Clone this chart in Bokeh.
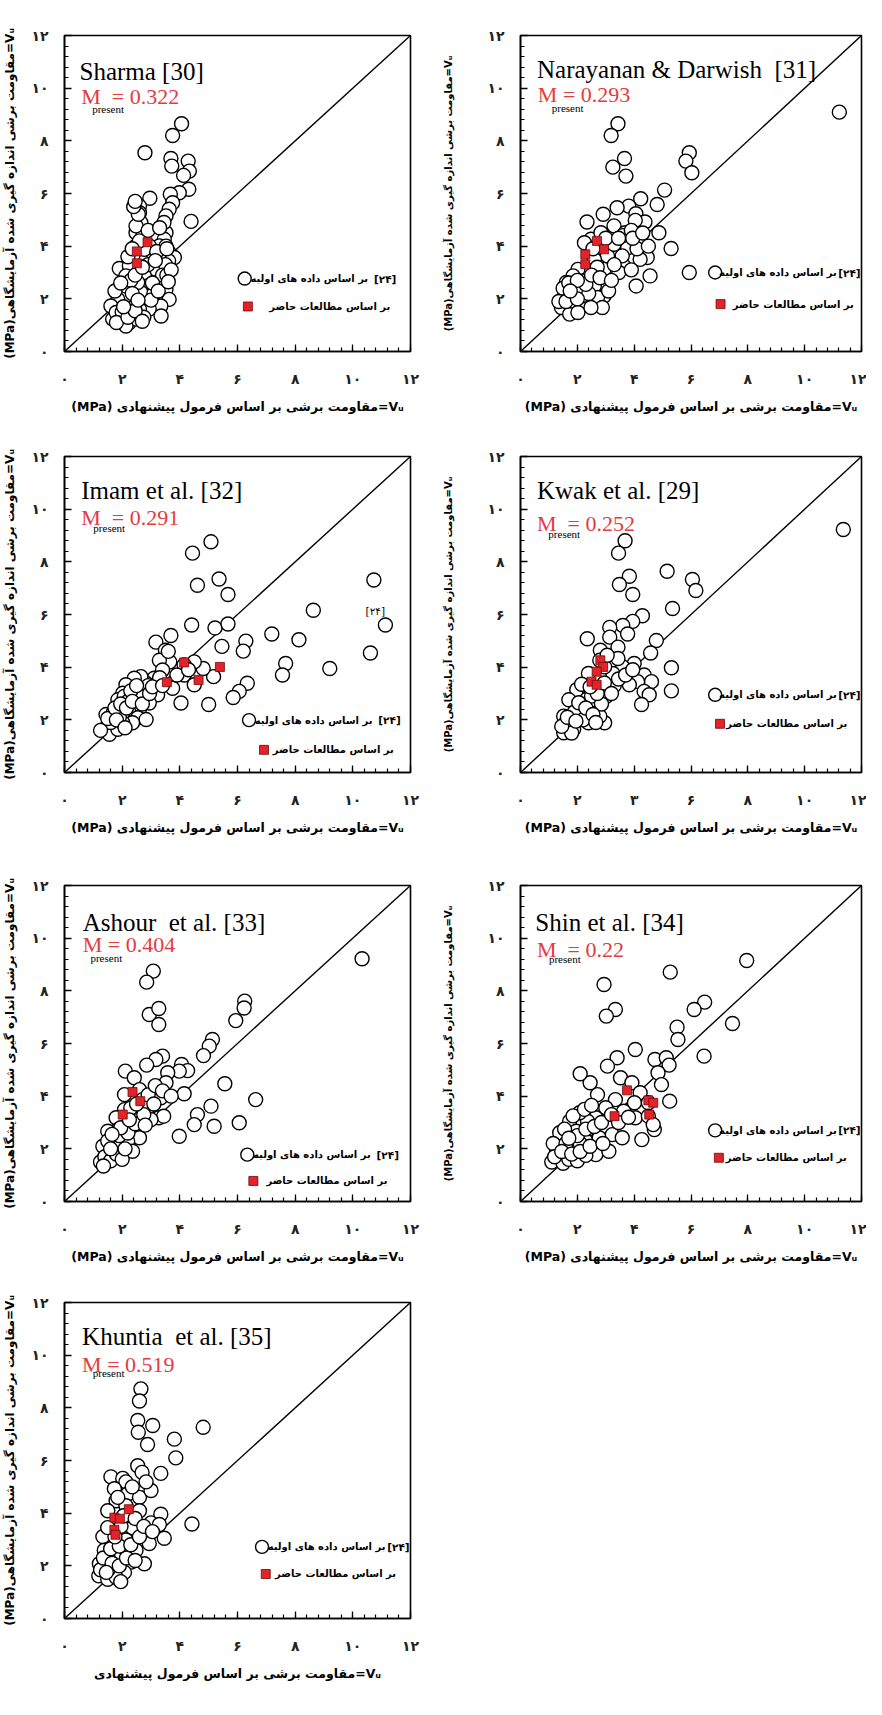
from bokeh.plotting import figure
from bokeh.models import Range1d, FixedTicker
from bokeh.layouts import column, row
from bokeh.embed import file_html
from bokeh.resources import INLINE
from bokeh.core.properties import value

# ---------------- data ----------------
MAJOR = [0, 2, 4, 6, 8, 10, 12]
TICK_LABELS = ["۰", "۲", "۴", "۶", "۸", "۱۰", "۱۲"]
TICK_LABELS_KWAK_X = ["۰", "۲", "۳", "۶", "۸", "۱۰", "۱۲"]
DIAG = [0, 12]

X_TITLE = "(MPa) مقاومت برشی بر اساس فرمول پیشنهادی=Vᵤ"
X_TITLE_LAST = "مقاومت برشی بر اساس فرمول پیشنهادی=Vᵤ"
Y_TITLE = "(MPa)مقاومت برشی اندازه گیری شده آزمایشگاهی=Vᵤ"
LEG1 = "بر اساس داده های اولیه"
LEG_REF = "[۲۴]"
LEG2 = "بر اساس مطالعات حاضر"

sharma_circles = [
    (4.06, 8.65), (3.75, 8.2), (2.79, 7.55), (3.69, 7.33), (3.72, 7.04), (4.29, 7.23), (4.33, 6.85),
    (4.13, 6.69), (4.31, 6.16), (3.98, 6.03), (3.67, 5.97), (3.75, 5.65), (3.63, 5.4), (3.52, 5.15),
    (4.39, 4.94), (2.96, 5.82), (2.6, 5.52), (2.6, 5.27), (2.65, 4.89), (2.48, 4.51), (3.52, 4.51),
    (3.46, 4.26), (3.29, 4.01), (3.63, 3.75), (3.81, 3.57), (3.61, 3.44), (2.48, 4.01), (2.94, 4.01),
    (3.29, 3.5), (3.17, 3.12), (1.9, 3.15), (2.25, 3.25), (2.13, 2.87), (2.77, 2.87), (2.88, 2.49),
    (3.34, 2.74), (3.52, 2.36), (3.63, 1.98), (3.34, 1.73), (2.94, 1.61), (2.65, 2.24), (2.36, 1.86),
    (2.13, 2.11), (1.85, 1.98), (1.61, 1.73), (1.67, 1.23), (1.96, 1.35), (2.25, 1.1), (2.48, 1.23),
    (2.13, 0.97), (1.79, 1.48), (2.6, 1.61), (2.13, 2.49), (2.54, 2.62), (2.83, 3.5), (3.06, 3.75),
    (3.52, 4.0), (2.71, 4.38), (2.48, 4.77), (2.56, 5.21), (2.77, 3.88), (2.3, 2.7), (2.9, 3.3),
    (3.2, 3.8), (3.5, 3.3), (3.4, 2.9), (3.1, 2.2), (2.0, 1.5), (1.8, 1.1), (2.2, 1.3), (2.75, 1.3),
    (3.55, 3.9), (2.6, 4.2), (3.45, 4.9), (2.45, 1.55), (3.0, 1.95), (1.75, 2.3), (2.05, 1.7),
    (2.35, 2.2), (2.45, 2.9), (2.7, 3.2), (3.05, 2.6), (3.25, 2.3), (3.55, 2.9), (3.7, 3.1),
    (2.2, 3.6), (2.35, 3.9), (2.9, 4.6), (3.3, 4.7), (3.15, 3.45), (2.55, 1.95), (1.95, 2.6),
    (2.7, 1.15), (3.35, 1.35), (3.6, 2.65), (2.4, 5.5), (2.45, 5.7),
]
sharma_squares = [(2.51, 3.8), (2.51, 3.35), (2.88, 4.15)]

narayanan_circles = [
    (11.22, 9.09), (3.43, 8.65), (3.19, 8.2), (3.66, 7.33), (3.25, 7.0), (3.71, 6.66), (5.94, 7.55),
    (5.82, 7.23), (6.03, 6.79), (5.07, 6.13), (4.81, 5.58), (4.23, 5.8), (3.81, 5.52), (3.4, 5.46),
    (4.06, 5.23), (4.38, 4.92), (4.04, 4.98), (3.29, 4.77), (2.91, 5.21), (2.34, 4.92), (3.69, 4.51),
    (4.23, 4.11), (3.77, 3.94), (4.87, 4.51), (5.3, 3.91), (5.94, 3.0), (4.46, 3.57), (4.56, 2.87),
    (4.07, 2.49), (4.21, 3.5), (3.63, 3.25), (3.46, 3.0), (2.94, 3.12), (3.06, 3.63), (2.48, 4.26),
    (2.83, 4.51), (2.25, 4.13), (2.6, 3.5), (2.31, 3.12), (2.02, 3.12), (1.85, 2.87), (1.61, 2.62),
    (2.19, 2.68), (2.6, 2.49), (2.94, 2.11), (2.71, 2.05), (2.88, 1.67), (2.48, 1.67), (2.16, 2.11),
    (1.9, 2.17), (1.56, 2.17), (1.44, 1.67), (1.73, 1.42), (1.79, 1.92), (2.02, 1.48), (3.29, 4.07),
    (3.58, 3.63), (1.5, 2.4), (1.7, 2.6), (2.1, 2.4), (2.4, 2.2), (2.7, 3.2), (3.1, 2.3), (3.6, 4.4),
    (3.9, 4.6), (4.1, 3.9), (1.35, 1.9), (1.6, 1.9), (2.0, 2.0), (2.3, 2.55), (2.5, 2.9), (2.8, 2.8),
    (3.3, 3.3), (3.2, 2.7), (3.9, 3.1), (3.95, 4.3), (4.3, 4.5), (4.5, 4.0), (2.0, 2.7), (1.75, 2.3),
    (2.55, 3.9), (3.0, 4.3), (3.45, 4.3),
]
narayanan_squares = [(2.28, 3.69), (2.28, 3.31), (2.69, 4.2), (2.94, 3.88)]

imam_circles = [
    (5.08, 8.76), (4.44, 8.33), (4.61, 7.11), (5.36, 7.35), (5.67, 6.76), (4.41, 5.6), (5.22, 5.49),
    (5.67, 5.64), (5.46, 4.79), (6.29, 4.99), (6.2, 4.61), (7.19, 5.26), (8.13, 5.04), (8.63, 6.16),
    (10.73, 7.31), (11.13, 5.6), (10.61, 4.54), (9.2, 3.95), (7.67, 4.14), (7.56, 3.7), (6.34, 3.39),
    (6.06, 3.08), (5.85, 2.85), (5.0, 2.58), (4.04, 2.64), (5.17, 3.64), (4.81, 3.95), (4.5, 4.2),
    (4.15, 3.7), (4.5, 3.33), (3.75, 3.2), (3.65, 4.2), (3.69, 5.2), (3.17, 4.95), (3.5, 4.64),
    (3.29, 4.26), (3.4, 3.89), (3.11, 3.58), (2.83, 3.39), (2.65, 3.64), (2.42, 3.58), (2.13, 3.33),
    (2.02, 3.01), (1.85, 2.76), (2.42, 3.01), (2.77, 2.95), (3.23, 2.95), (2.94, 2.64), (2.6, 2.39),
    (2.25, 2.26), (2.54, 2.08), (2.83, 2.01), (2.02, 2.26), (1.44, 2.2), (1.44, 1.7), (1.56, 1.45),
    (1.85, 1.64), (2.36, 1.89), (2.02, 1.89), (2.07, 2.89), (4.15, 4.08), (1.7, 2.3), (1.9, 2.1),
    (2.2, 2.7), (2.6, 2.9), (2.9, 3.3), (3.3, 3.6), (1.6, 1.9), (2.3, 3.1), (1.25, 1.6), (1.5, 2.05),
    (1.75, 2.45), (1.95, 2.6), (2.15, 2.45), (2.35, 2.7), (2.7, 2.6), (2.5, 3.3), (2.95, 3.0),
    (3.05, 3.25), (3.4, 3.3), (1.8, 2.0), (2.1, 1.7), (3.6, 4.6), (3.9, 3.7), (4.3, 3.9),
]
imam_squares = [(4.15, 4.18), (3.55, 3.43), (4.65, 3.51), (5.39, 4.01)]

kwak_circles = [
    (11.36, 9.23), (3.68, 8.8), (3.45, 8.33), (3.83, 7.45), (3.48, 7.14), (3.95, 6.76), (5.16, 7.64),
    (6.05, 7.33), (6.17, 6.91), (5.35, 6.23), (4.29, 5.95), (3.95, 5.74), (3.6, 5.58), (3.77, 5.26),
    (3.14, 5.51), (3.14, 5.14), (4.78, 5.01), (4.58, 4.54), (3.43, 4.76), (2.81, 4.64), (2.35, 5.08),
    (4.0, 4.14), (3.6, 4.01), (4.35, 3.7), (4.61, 3.45), (4.12, 3.45), (3.83, 3.33), (4.35, 3.08),
    (4.53, 2.95), (4.26, 2.58), (5.31, 3.98), (5.31, 3.1), (3.25, 3.76), (3.14, 3.26), (3.02, 2.89),
    (2.62, 2.64), (2.27, 2.76), (1.98, 3.14), (2.1, 2.51), (1.7, 2.76), (1.52, 2.14), (1.7, 1.76),
    (1.87, 1.64), (1.52, 1.51), (2.16, 2.26), (2.39, 1.89), (2.68, 2.26), (2.96, 1.89), (2.79, 2.14),
    (2.39, 3.76), (2.96, 4.01), (2.79, 4.26), (3.43, 4.33), (1.6, 1.9), (1.9, 2.3), (2.2, 2.0),
    (2.5, 2.9), (2.85, 2.6), (3.3, 3.3), (1.8, 1.5), (2.3, 3.3), (1.45, 1.75), (1.65, 2.1),
    (1.95, 1.95), (2.05, 2.65), (2.3, 2.45), (2.55, 2.2), (2.7, 3.0), (2.95, 3.4), (3.2, 3.0),
    (3.45, 3.55), (3.7, 3.7), (3.95, 3.9), (2.15, 3.35), (2.45, 3.25), (3.05, 4.45), (2.65, 1.9),
]
kwak_squares = [(2.5, 3.45), (2.68, 3.33), (2.81, 4.26), (2.91, 4.01), (2.68, 3.83)]

ashour_circles = [
    (10.32, 9.22), (3.08, 8.75), (2.85, 8.33), (2.94, 7.1), (3.27, 7.33), (3.27, 6.72), (6.25, 7.61),
    (6.23, 7.35), (5.94, 6.87), (5.13, 6.15), (5.02, 5.9), (4.82, 5.54), (3.4, 5.52), (3.17, 5.39),
    (2.85, 5.18), (4.06, 5.2), (4.27, 4.97), (3.98, 4.95), (3.58, 4.89), (3.52, 4.51), (2.11, 4.95),
    (2.42, 4.7), (2.6, 4.25), (2.71, 3.87), (2.94, 3.62), (3.34, 3.94), (4.15, 4.09), (3.27, 3.18),
    (3.44, 3.24), (3.0, 3.11), (5.56, 4.47), (6.63, 3.87), (5.08, 3.62), (4.61, 3.3), (4.5, 2.92),
    (5.19, 2.86), (6.06, 2.99), (3.98, 2.48), (2.08, 4.06), (2.08, 3.49), (1.79, 3.18), (1.85, 2.73),
    (1.5, 2.67), (2.36, 2.67), (2.65, 3.18), (2.6, 2.42), (2.19, 2.29), (1.79, 2.16), (1.5, 1.91),
    (2.36, 1.91), (1.33, 2.1), (1.25, 1.5), (1.4, 1.7), (1.6, 1.55), (1.8, 1.8), (2.0, 1.6),
    (1.5, 2.3), (2.1, 2.0), (1.35, 1.35), (1.6, 2.0), (1.9, 2.5), (2.2, 2.6), (2.45, 2.95),
    (2.75, 3.3), (2.3, 3.55), (2.5, 3.7), (2.9, 4.05), (3.15, 4.4), (3.4, 4.2), (3.7, 4.0),
    (1.95, 2.8), (1.65, 2.55), (2.25, 3.1), (2.8, 2.9), (3.1, 3.7),
]
ashour_squares = [(2.36, 4.16), (2.63, 3.81), (2.02, 3.3)]

shin_circles = [
    (7.96, 9.15), (5.27, 8.71), (2.94, 8.24), (3.34, 7.29), (3.02, 7.04), (6.48, 7.57), (6.11, 7.29),
    (7.46, 6.76), (5.51, 6.62), (5.54, 6.15), (6.46, 5.52), (4.04, 5.77), (3.4, 5.46), (3.06, 5.14),
    (4.73, 5.39), (5.13, 5.46), (5.23, 5.18), (4.84, 4.89), (4.96, 4.44), (5.25, 3.81), (3.52, 4.7),
    (3.92, 4.51), (4.21, 4.13), (4.01, 3.75), (4.5, 3.75), (4.71, 2.73), (4.27, 2.35), (4.04, 3.18),
    (3.34, 3.87), (3.63, 3.43), (2.71, 4.06), (2.45, 4.51), (2.1, 4.85), (3.0, 3.56), (2.65, 3.18),
    (2.36, 3.05), (2.08, 3.37), (1.73, 3.05), (1.96, 2.67), (1.38, 2.61), (2.31, 2.29), (1.84, 2.04),
    (2.77, 2.42), (3.23, 2.54), (3.58, 2.42), (1.27, 1.91), (2.65, 1.78), (3.11, 1.91), (4.5, 3.24),
    (4.67, 2.92), (1.1, 1.5), (1.3, 1.7), (1.5, 1.45), (1.7, 1.6), (2.0, 1.55), (2.3, 1.75),
    (1.15, 2.2), (1.6, 2.2), (2.1, 2.2), (1.2, 1.7), (1.45, 1.9), (1.8, 1.8), (2.1, 1.9), (2.45, 2.1),
    (2.0, 2.5), (2.3, 2.75), (2.6, 2.85), (2.85, 3.0), (1.55, 2.75), (1.85, 3.25), (2.25, 3.5),
    (2.5, 3.65), (3.2, 3.3), (3.45, 3.0), (3.8, 3.2), (1.7, 2.4), (2.9, 2.2),
]
shin_squares = [(3.75, 4.22), (3.31, 3.24), (4.5, 3.84), (4.67, 3.75), (4.53, 3.3)]

khuntia_circles = [
    (2.65, 8.72), (2.6, 8.26), (2.54, 7.52), (2.56, 7.07), (3.06, 7.33), (2.88, 6.61), (4.81, 7.26),
    (3.81, 6.81), (3.86, 6.1), (3.34, 5.51), (2.54, 5.8), (2.69, 5.55), (1.61, 5.38), (2.02, 5.32),
    (2.13, 5.19), (1.73, 4.93), (2.19, 4.73), (2.6, 4.6), (3.0, 4.86), (2.83, 5.19), (1.79, 4.47),
    (2.13, 4.28), (2.6, 4.09), (1.5, 4.09), (3.34, 3.96), (3.0, 3.63), (3.29, 3.57), (4.42, 3.59),
    (2.83, 3.18), (3.46, 3.05), (2.36, 3.44), (2.13, 2.98), (2.48, 2.59), (2.77, 2.08), (2.31, 2.14),
    (2.08, 1.75), (1.79, 2.27), (1.5, 2.4), (1.56, 2.85), (1.33, 3.11), (1.38, 2.59), (1.21, 2.08),
    (1.19, 1.62), (1.5, 1.49), (1.79, 1.56), (1.53, 1.88), (1.96, 3.5), (2.94, 2.85), (1.25, 1.85),
    (1.35, 2.3), (1.65, 2.1), (1.9, 2.0), (2.15, 2.3), (2.45, 2.2), (1.6, 2.65), (1.9, 2.75),
    (2.3, 2.8), (2.6, 3.1), (1.75, 3.1), (1.5, 3.45), (2.05, 3.9), (2.45, 3.8), (2.75, 3.5),
    (3.05, 3.3), (1.85, 4.6), (2.35, 5.0), (1.95, 1.4), (1.45, 1.75),
]
khuntia_squares = [(1.73, 3.83), (1.92, 3.79), (2.23, 4.15), (1.73, 3.37), (1.77, 3.18)]

# legend: leg1 = (circle x, y, gap before [24]); leg2 = (square x, y, text right end)
PANELS = [
    dict(circles=sharma_circles, squares=sharma_squares, title="Sharma [30]", title_pos=(0.52, 10.64),
         m="M\u00a0 = 0.322", m_pos=(0.58, 9.7), present_pos=(0.96, 9.19),
         leg1=(6.25, 2.77, 0.98), leg2=(6.36, 1.71, 11.3), extra=None),
    dict(circles=narayanan_circles, squares=narayanan_squares, title="Narayanan & Darwish\u00a0 [31]",
         title_pos=(0.58, 10.7), m="M = 0.293", m_pos=(0.61, 9.76), present_pos=(1.1, 9.25),
         leg1=(6.85, 3.0, 0.84), leg2=(7.04, 1.8, 11.73), extra=None),
    dict(circles=imam_circles, squares=imam_squares, title="Imam et al. [32]", title_pos=(0.58, 10.7),
         m="M\u00a0 = 0.291", m_pos=(0.58, 9.7), present_pos=(1.0, 9.3),
         leg1=(6.4, 1.99, 0.98), leg2=(6.92, 0.86, 11.42), extra=(10.78, 6.14)),
    dict(circles=kwak_circles, squares=kwak_squares, title="Kwak et al. [29]", title_pos=(0.58, 10.7),
         m="M\u00a0 = 0.252", m_pos=(0.58, 9.45), present_pos=(0.98, 9.04),
         leg1=(6.85, 2.95, 0.84), leg2=(7.02, 1.85, 11.5), extra=None, kwak=True),
    dict(circles=ashour_circles, squares=ashour_squares, title="Ashour\u00a0 et al. [33]",
         title_pos=(0.63, 10.58), m="M = 0.404", m_pos=(0.63, 9.76), present_pos=(0.9, 9.25),
         leg1=(6.34, 1.78, 0.98), leg2=(6.55, 0.78, 11.2), extra=None),
    dict(circles=shin_circles, squares=shin_squares, title="Shin et al. [34]", title_pos=(0.52, 10.58),
         m="M\u00a0 = 0.22", m_pos=(0.58, 9.57), present_pos=(1.0, 9.19),
         leg1=(6.85, 2.7, 0.84), leg2=(6.98, 1.66, 11.48), extra=None),
    dict(circles=khuntia_circles, squares=khuntia_squares, title="Khuntia\u00a0 et al. [35]",
         title_pos=(0.61, 10.7), m="M = 0.519", m_pos=(0.61, 9.66), present_pos=(0.98, 9.31),
         leg1=(6.85, 2.72, 0.84), leg2=(6.98, 1.69, 11.5), extra=None, last=True),
]

# ---------------- style / layout ----------------
FRAME_W, FRAME_H = 346, 316
ROW_H = [421, 421, 425, 431]
ROW_TOP = [35, 35, 43, 35]
MINOR = [round(i * 0.4, 2) for i in range(31)]
RED_TXT = "#e23b41"
RED_SQ = "#e3232a"
PERSIAN_FONT = "DejaVu Sans"
SERIF = "Liberation Serif"
LEG1_W = 4.0   # width of the first legend text in data units at 10px


def make_panel(cfg, col, r):
    W = 440 if col == 0 else 426
    bl = 64 if col == 0 else 75
    br = W - bl - FRAME_W
    H = ROW_H[r]
    bt = ROW_TOP[r]
    bb = H - bt - FRAME_H
    p = figure(width=W, height=H, x_range=Range1d(0, 12), y_range=Range1d(0, 12),
               output_backend="svg", toolbar_location=None, tools="",
               min_border_left=bl, min_border_right=br, min_border_top=bt, min_border_bottom=bb)
    p.background_fill_color = "white"
    p.border_fill_color = "white"
    p.outline_line_color = "black"
    p.outline_line_width = 1.6
    p.xgrid.visible = False
    p.ygrid.visible = False

    xl = TICK_LABELS_KWAK_X if cfg.get("kwak") else TICK_LABELS
    for ax, labels in ((p.xaxis, xl), (p.yaxis, TICK_LABELS)):
        ax.ticker = FixedTicker(ticks=MAJOR, minor_ticks=MINOR)
        ax.major_label_overrides = {t: s for t, s in zip(MAJOR, labels)}
        ax.axis_line_color = "black"
        ax.axis_line_width = 1.6
        ax.major_tick_in = 7
        ax.major_tick_out = 0
        ax.minor_tick_in = 4
        ax.minor_tick_out = 0
        ax.major_tick_line_width = 1.3
        ax.minor_tick_line_width = 1.2
        ax.major_tick_line_color = "black"
        ax.minor_tick_line_color = "black"
        ax.major_label_text_font = PERSIAN_FONT
        ax.major_label_text_font_size = "14px"
        ax.major_label_text_font_style = "bold"
        ax.major_label_text_color = "#222222"
        ax.axis_label_text_font = PERSIAN_FONT
        ax.axis_label_text_font_style = "bold"
        ax.axis_label_text_color = "black"
    p.xaxis.major_label_standoff = 19
    p.yaxis.major_label_standoff = 16
    p.yaxis.major_label_orientation = "horizontal"

    last = cfg.get("last", False)
    p.xaxis.axis_label = X_TITLE_LAST if last else X_TITLE
    p.xaxis.axis_label_text_font_size = "12.5px"
    p.xaxis.axis_label_standoff = 9
    p.yaxis.axis_label = Y_TITLE
    if col == 0:
        p.yaxis.axis_label_text_font_size = "12px"
        p.yaxis.axis_label_standoff = 11
    else:
        p.yaxis.axis_label_text_font_size = "10px"
        p.yaxis.axis_label_standoff = 30

    # diagonal
    p.line(DIAG, DIAG, line_color="black", line_width=1.4)

    cx = [c[0] for c in cfg["circles"]]
    cy = [c[1] for c in cfg["circles"]]
    p.scatter(cx, cy, marker="circle", size=14, fill_color="white", line_color="black", line_width=1.4)
    sx = [s[0] for s in cfg["squares"]]
    sy = [s[1] for s in cfg["squares"]]
    p.scatter(sx, sy, marker="square", size=9, fill_color=RED_SQ, line_color="#6b0a0a", line_width=0.8)

    # in-frame titles
    tx, ty = cfg["title_pos"]
    p.text([tx], [ty], text=[cfg["title"]], text_font=value(SERIF), text_font_size="25px",
           text_baseline="alphabetic", text_align="left", text_color="black")
    mx, my = cfg["m_pos"]
    p.text([mx], [my], text=[cfg["m"]], text_font=value(SERIF), text_font_size="22px",
           text_baseline="alphabetic", text_align="left", text_color=RED_TXT)
    px_, py_ = cfg["present_pos"]
    p.text([px_], [py_], text=["present"], text_font=value(SERIF), text_font_size="11px",
           text_baseline="alphabetic", text_align="left", text_color="black")

    # legend
    l1x, l1y, gap = cfg["leg1"]
    l2x, l2y, l2r = cfg["leg2"]
    leg1_right = l1x + 0.28 + LEG1_W
    p.scatter([l1x], [l1y], marker="circle", size=13, fill_color="white", line_color="black", line_width=1.4)
    p.scatter([l2x], [l2y], marker="square", size=9, fill_color=RED_SQ, line_color="#6b0a0a", line_width=0.8)
    p.text([leg1_right], [l1y], text=[LEG1], text_font=value(PERSIAN_FONT), text_font_size="10px",
           text_font_style="bold", text_baseline="middle", text_align="right", text_color="black")
    p.text([leg1_right + gap], [l1y], text=[LEG_REF], text_font=value(PERSIAN_FONT), text_font_size="10.5px",
           text_font_style="bold", text_baseline="middle", text_align="right", text_color="black")
    p.text([l2r], [l2y], text=[LEG2], text_font=value(PERSIAN_FONT), text_font_size="10px",
           text_font_style="bold", text_baseline="middle", text_align="right", text_color="black")
    if cfg["extra"] is not None:
        ex, ey = cfg["extra"]
        p.text([ex], [ey], text=[LEG_REF], text_font=value(PERSIAN_FONT), text_font_size="10.5px",
               text_baseline="middle", text_align="center", text_color="black")
    return p


figs = [make_panel(cfg, i % 2, i // 2) for i, cfg in enumerate(PANELS)]
rows = []
for r in range(4):
    items = figs[2 * r: 2 * r + 2]
    rows.append(row(*items))
layout = column(*rows)

open("out.html", "w").write(file_html(layout, INLINE))
